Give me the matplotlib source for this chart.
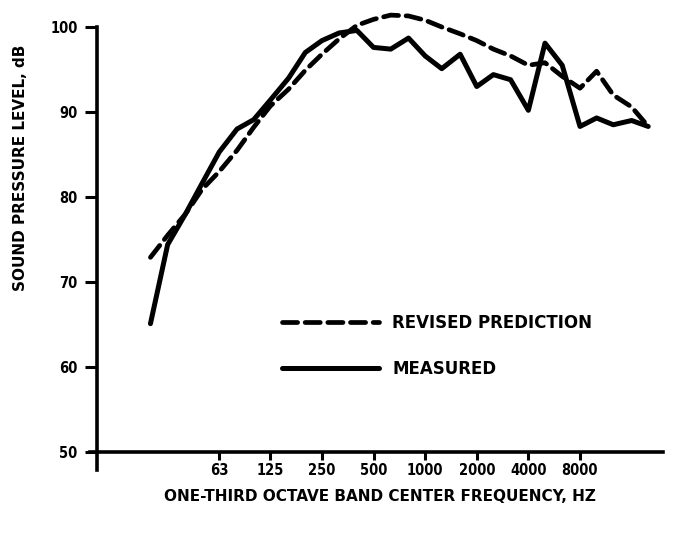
import matplotlib

matplotlib.use("Agg")
import matplotlib.pyplot as plt

# one-third octave band centre frequencies, Hz
freqs = [25, 31.5, 40, 50, 63, 80, 100, 125, 160, 200, 250, 315, 400, 500, 630,
         800, 1000, 1250, 1600, 2000, 2500, 3150, 4000, 5000, 6300, 8000, 10000,
         12500, 16000, 20000]
measured = [65.1, 74.4, 78.0, 81.6, 85.3, 88.0, 89.1, 91.4, 94.0, 97.0, 98.4,
            99.3, 99.6, 97.6, 97.4, 98.7, 96.6, 95.1, 96.8, 93.0, 94.4, 93.8,
            90.2, 98.1, 95.5, 88.3, 89.3, 88.5, 89.0, 88.3]
revised = [72.9, 75.5, 78.0, 80.9, 83.0, 85.5, 88.2, 90.7, 92.7, 94.9, 96.8,
           98.6, 100.2, 100.9, 101.4, 101.3, 100.8, 100.0, 99.2, 98.4, 97.4,
           96.6, 95.5, 95.8, 94.2, 92.8, 94.8, 92.0, 90.6, 88.3]

xticks = [63, 125, 250, 500, 1000, 2000, 4000, 8000]
xticklabels = ["63", "125", "250", "500", "1000", "2000", "4000", "8000"]
yticks = [50, 60, 70, 80, 90, 100]

FONT = ["DejaVu Sans"]


def main():
    fig = plt.figure(figsize=(6.95, 5.36), dpi=100)
    ax = fig.add_axes([0.1396, 0.1567, 0.8144, 0.7929])

    ax.set_xscale("log")
    ax.set_xlim(12.2, 24400)
    ax.set_ylim(50, 100)

    (l_rev,) = ax.plot(freqs, revised, color="black", lw=3.4, dashes=(3.2, 1.6),
                       dash_capstyle="round", solid_joinstyle="round", clip_on=False,
                       label="REVISED PREDICTION")
    (l_meas,) = ax.plot(freqs, measured, color="black", lw=3.6,
                        solid_joinstyle="round", solid_capstyle="round", clip_on=False,
                        label="MEASURED")

    for side in ("top", "right"):
        ax.spines[side].set_visible(False)
    ax.spines["left"].set_linewidth(2.6)
    ax.spines["bottom"].set_linewidth(2.6)
    ax.spines["left"].set_bounds(47.9, 100)
    ax.spines["bottom"].set_bounds(11.1, 24400)

    ax.set_xticks(xticks)
    ax.set_xticklabels(xticklabels)
    ax.minorticks_off()
    ax.set_yticks(yticks)
    ax.tick_params(axis="both", direction="out", width=2.2, color="black")
    ax.tick_params(axis="x", length=6, pad=2)
    ax.tick_params(axis="y", length=9, pad=5)
    for lab in ax.get_xticklabels() + ax.get_yticklabels():
        lab.set_family(FONT)
        lab.set_fontstretch("condensed")
        lab.set_fontweight("bold")
        lab.set_fontsize(10.5)

    fig.text(0.547, 0.073, "ONE-THIRD OCTAVE BAND CENTER FREQUENCY, HZ",
             ha="center", va="center", family=FONT, fontweight="bold", fontsize=11)
    fig.text(0.029, 0.687, "SOUND PRESSURE LEVEL, dB", rotation=90,
             ha="center", va="center", family=FONT, fontweight="bold", fontsize=11)

    ax.legend(handles=[l_rev, l_meas], loc="upper left",
              bbox_to_anchor=(0.327, 0.325), frameon=False, borderpad=0,
              borderaxespad=0, handlelength=5.8, handletextpad=0.8,
              labelspacing=1.7, prop={"family": FONT, "weight": "bold", "size": 12})

    fig.savefig("out.png", dpi=100)
    plt.close(fig)


if __name__ == "__main__":
    main()
